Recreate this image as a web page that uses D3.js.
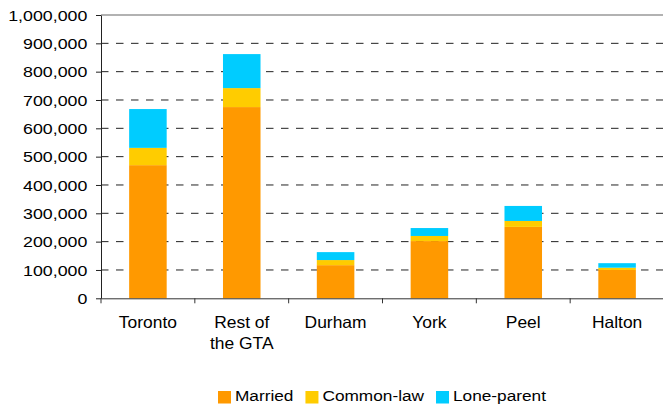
<!DOCTYPE html>
<html>
<head>
<meta charset="utf-8">
<script src="https://cdn.jsdelivr.net/npm/d3@7"></script>
<style>
  body { margin: 0; background: #fff; }
  svg { display: block; font-family: "Liberation Sans", Arial, sans-serif; }
</style>
</head>
<body>
<svg id="chart" width="663" height="409"></svg>
<script>
// data
var categories = ["Toronto", "Rest of\nthe GTA", "Durham", "York", "Peel", "Halton"];
var married    = [470000, 675000, 117000, 202000, 252000, 100000];
var commonLaw  = [61000,  67000,  18000,  18000,  21000,  8000];
var loneParent = [137000, 120000, 28000,  28000,  53000,  16000];
var seriesNames = ["Married", "Common-law", "Lone-parent"];
var seriesColors = ["#FF9900", "#FFCC00", "#00CCFF"];
var yTicks = [0, 100000, 200000, 300000, 400000, 500000, 600000, 700000, 800000, 900000, 1000000];

var svg = d3.select("#chart");

// plot area (window.top is reserved, so use other names)
var plotLeft = 101, plotRight = 664, plotTop = 15, plotBottom = 298.3;

var rows = categories.map(function (c, i) {
  return { cat: c, "Married": married[i], "Common-law": commonLaw[i], "Lone-parent": loneParent[i] };
});

var x = d3.scaleBand()
  .domain(categories)
  .range([plotLeft, plotRight])
  .paddingInner(0.6)
  .paddingOuter(0.3);

var y = d3.scaleLinear()
  .domain([0, 1000000])
  .range([plotBottom, plotTop]);

var color = d3.scaleOrdinal().domain(seriesNames).range(seriesColors);

// gridlines
svg.append("g")
  .selectAll("line")
  .data(yTicks.filter(function (d) { return d > 0; }))
  .enter().append("line")
  .attr("x1", plotLeft).attr("x2", plotRight)
  .attr("y1", function (d) { return y(d); })
  .attr("y2", function (d) { return y(d); })
  .attr("stroke", function (d) { return d === 1000000 ? "#999" : "#222"; })
  .attr("stroke-width", function (d) { return d === 1000000 ? 1.5 : 1; })
  .attr("stroke-dasharray", function (d) { return d === 1000000 ? null : "7.5,7.5"; });

// stacked bars
var stack = d3.stack().keys(seriesNames)(rows);

svg.append("g")
  .selectAll("g")
  .data(stack)
  .enter().append("g")
  .attr("fill", function (d) { return color(d.key); })
  .selectAll("rect")
  .data(function (d) { return d; })
  .enter().append("rect")
  .attr("x", function (d) { return x(d.data.cat); })
  .attr("width", x.bandwidth())
  .attr("y", function (d) { return y(d[1]); })
  .attr("height", function (d) { return y(d[0]) - y(d[1]); });

// y axis
var yAxis = svg.append("g")
  .attr("transform", "translate(" + plotLeft + ",0)")
  .call(d3.axisLeft(y).tickValues(yTicks).tickSize(5).tickSizeOuter(0).tickFormat(d3.format(",")));
yAxis.select(".domain").attr("stroke", "#222");
yAxis.selectAll(".tick line").attr("stroke", "#222");
yAxis.selectAll(".tick text")
  .attr("x", -13.7 / 1.27)
  .attr("dy", "0.36em")
  .attr("transform", "scale(1.27,1)")
  .style("font-size", "14px")
  .attr("fill", "#000");

// x axis
var xAxis = svg.append("g")
  .attr("transform", "translate(0," + plotBottom + ")")
  .call(d3.axisBottom(x).tickSize(0).tickSizeOuter(0));
xAxis.select(".domain").attr("stroke", "#333");

xAxis.selectAll(".tick text").each(function (d) {
  var t = d3.select(this);
  t.text(null)
    .attr("y", 30)
    .attr("dy", null)
    .attr("transform", "scale(1.07,1)")
    .style("font-size", "16.3px")
    .attr("fill", "#000");
  d.split("\n").forEach(function (line, i) {
    t.append("tspan").attr("x", 0).attr("dy", i === 0 ? 0 : 21).text(line);
  });
});

// category boundary ticks
var bounds = categories.map(function (c) { return x(c) - (x.step() - x.bandwidth()) / 2; });
bounds.push(plotRight);
xAxis.selectAll(".bound")
  .data(bounds)
  .enter().append("line")
  .attr("class", "bound")
  .attr("x1", function (d) { return d; })
  .attr("x2", function (d) { return d; })
  .attr("y1", 0).attr("y2", 5)
  .attr("stroke", "#333");

// legend
var legend = svg.append("g").attr("transform", "translate(218,400.5)");
var lx = 0;
seriesNames.forEach(function (name) {
  var item = legend.append("g").attr("transform", "translate(" + lx + ",0)");
  item.append("rect")
    .attr("x", 0).attr("y", -9.5)
    .attr("width", 13).attr("height", 12.5)
    .attr("fill", color(name));
  var txt = item.append("text")
    .attr("x", 17 / 1.12)
    .attr("transform", "scale(1.12,1)")
    .style("font-size", "15.4px")
    .attr("fill", "#000")
    .text(name);
  var w = txt.node().getComputedTextLength() * 1.12;
  lx += 17 + w + 12;
});
</script>
</body>
</html>
